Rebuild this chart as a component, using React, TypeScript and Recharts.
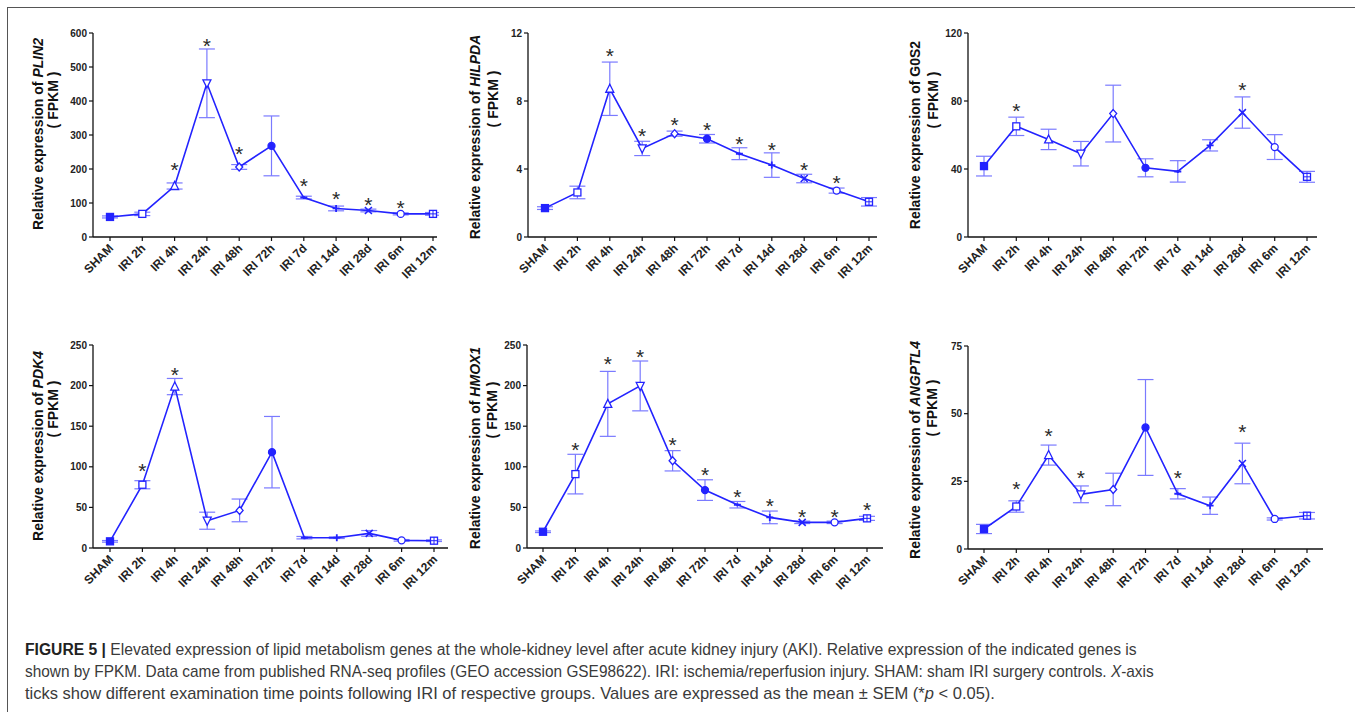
import React, { useLayoutEffect, useRef, useState } from 'react'
import { LineChart, Line, XAxis, YAxis, ErrorBar } from 'recharts'

const FONT = '"Liberation Sans", Arial, Helvetica, sans-serif'
const BLUE = '#2323ff'
const BAR_BLUE = '#7a7aff'

const CATEGORIES = ['SHAM', 'IRI 2h', 'IRI 4h', 'IRI 24h', 'IRI 48h', 'IRI 72h', 'IRI 7d', 'IRI 14d', 'IRI 28d', 'IRI 6m', 'IRI 12m']

// marker shape per time point (GraphPad style)
const MARKERS = ['sqFill', 'sq', 'triUp', 'triDown', 'diamond', 'circFill', 'dash', 'plus', 'cross', 'circ', 'sqPlus']

const PLIN2_MEAN = [59, 68, 150, 452, 206, 268, 116, 84, 78, 68, 68]
const PLIN2_SEM = [3, 5, 9, 101, 7, 88, 4, 7, 4, 3, 4]
const PLIN2_STAR = [null, null, 209, 575, 256, null, 162, 126, 108, 100, null]
const PLIN2_TICKS = [0, 100, 200, 300, 400, 500, 600]

const HILPDA_MEAN = [1.7, 2.62, 8.72, 5.21, 6.08, 5.78, 4.9, 4.23, 3.44, 2.73, 2.07]
const HILPDA_SEM = [0.08, 0.37, 1.57, 0.42, 0.15, 0.25, 0.35, 0.72, 0.25, 0.15, 0.25]
const HILPDA_STAR = [null, null, 10.92, 6.2, 6.83, 6.53, 5.74, 5.41, 4.23, 3.42, null]
const HILPDA_TICKS = [0, 4, 8, 12]

const G0S2_MEAN = [41.7, 65.1, 57.4, 49, 72.6, 40.7, 38.6, 53.9, 73.2, 52.9, 35.4]
const G0S2_SEM = [5.8, 5.4, 6, 7.2, 16.7, 5.3, 6.3, 3.3, 9.2, 7.3, 3.2]
const G0S2_STAR = [null, 76.7, null, null, null, null, null, null, 88.9, null, null]
const G0S2_TICKS = [0, 40, 80, 120]

const PDK4_MEAN = [8.2, 77.9, 198.8, 33.6, 46.3, 118, 12.7, 12.7, 18, 9.4, 9]
const PDK4_SEM = [1, 5, 10, 10.5, 14, 44, 1.5, 1, 3.5, 1, 1]
const PDK4_STAR = [null, 100.4, 219, null, null, null, null, null, null, null, null]
const PDK4_TICKS = [0, 50, 100, 150, 200, 250]

const HMOX1_MEAN = [20, 91, 177.5, 199.6, 107.4, 71.3, 53.3, 37.7, 31.6, 31.6, 36.5]
const HMOX1_SEM = [1, 24.4, 40, 30.7, 12.5, 12.7, 4, 7.8, 1.5, 1.5, 2.5]
const HMOX1_STAR = [null, 126, 232, 241, 133, 96, 68.4, 57.4, 43.9, 43.9, 52]
const HMOX1_TICKS = [0, 50, 100, 150, 200, 250]

const ANGPTL4_MEAN = [7.4, 15.7, 34.7, 20.2, 22, 44.9, 20.4, 16, 31.6, 11.1, 12.3]
const ANGPTL4_SEM = [1.7, 2.1, 3.7, 3.1, 6, 17.7, 1.9, 3.2, 7.5, 0.4, 1.2]
const ANGPTL4_STAR = [null, 23.7, 43.3, 28, null, null, 27.8, null, 45, null, null]
const ANGPTL4_TICKS = [0, 25, 50, 75]

const PANELS = [
  { gene: 'PLIN2', italic: true, mean: PLIN2_MEAN, sem: PLIN2_SEM, star: PLIN2_STAR, ticks: PLIN2_TICKS,
    axisX: 93, axisEnd: 437, top: 33, bottom: 237, first: 110, last: 433, l1: [38, 134], l2: [53, 100] },
  { gene: 'HILPDA', italic: true, mean: HILPDA_MEAN, sem: HILPDA_SEM, star: HILPDA_STAR, ticks: HILPDA_TICKS,
    axisX: 528, axisEnd: 877, top: 33, bottom: 237, first: 545, last: 869, l1: [475, 137], l2: [493, 99] },
  { gene: 'G0S2', italic: false, mean: G0S2_MEAN, sem: G0S2_SEM, star: G0S2_STAR, ticks: G0S2_TICKS,
    axisX: 968, axisEnd: 1317, top: 33, bottom: 237, first: 984, last: 1307, l1: [915, 135], l2: [933, 100] },
  { gene: 'PDK4', italic: true, mean: PDK4_MEAN, sem: PDK4_SEM, star: PDK4_STAR, ticks: PDK4_TICKS,
    axisX: 93, axisEnd: 448, top: 345, bottom: 548, first: 110, last: 434, l1: [38, 446], l2: [53, 409] },
  { gene: 'HMOX1', italic: true, mean: HMOX1_MEAN, sem: HMOX1_SEM, star: HMOX1_STAR, ticks: HMOX1_TICKS,
    axisX: 527, axisEnd: 883, top: 345, bottom: 548, first: 543, last: 867, l1: [475, 448], l2: [492, 410] },
  { gene: 'ANGPTL4', italic: true, mean: ANGPTL4_MEAN, sem: ANGPTL4_SEM, star: ANGPTL4_STAR, ticks: ANGPTL4_TICKS,
    axisX: 968, axisEnd: 1323, top: 346, bottom: 549, first: 984, last: 1307, l1: [915, 450], l2: [932, 408] },
]

function Marker(props: any) {
  const { cx, cy, index } = props
  if (cx == null || cy == null || isNaN(cy)) return <g key={index} />
  const s = 3.5
  const st = { stroke: BLUE, strokeWidth: 1.3 }
  switch (MARKERS[index]) {
    case 'sqFill':
      return <rect key={index} x={cx - s} y={cy - s} width={2 * s} height={2 * s} fill={BLUE} {...st} />
    case 'sq':
      return <rect key={index} x={cx - s} y={cy - s} width={2 * s} height={2 * s} fill="#fff" {...st} />
    case 'triUp':
      return <polygon key={index} points={`${cx},${cy - s - 1} ${cx + s + 0.5},${cy + s} ${cx - s - 0.5},${cy + s}`} fill="#fff" {...st} />
    case 'triDown':
      return <polygon key={index} points={`${cx},${cy + s + 1} ${cx + s + 0.5},${cy - s} ${cx - s - 0.5},${cy - s}`} fill="#fff" {...st} />
    case 'diamond':
      return <polygon key={index} points={`${cx},${cy - s - 0.5} ${cx + s},${cy} ${cx},${cy + s + 0.5} ${cx - s},${cy}`} fill="#fff" {...st} />
    case 'circFill':
      return <circle key={index} cx={cx} cy={cy} r={s} fill={BLUE} {...st} />
    case 'dash':
      return <path key={index} d={`M${cx - s},${cy}H${cx + s}M${cx},${cy - 1.5}V${cy + 1.5}`} fill="none" {...st} strokeWidth={2} />
    case 'plus':
      return <path key={index} d={`M${cx - s},${cy}H${cx + s}M${cx},${cy - s}V${cy + s}`} fill="none" {...st} strokeWidth={1.8} />
    case 'cross':
      return <path key={index} d={`M${cx - s},${cy - s}L${cx + s},${cy + s}M${cx + s},${cy - s}L${cx - s},${cy + s}`} fill="none" {...st} strokeWidth={1.6} />
    case 'circ':
      return <circle key={index} cx={cx} cy={cy} r={s} fill="#fff" {...st} />
    default:
      return (
        <g key={index}>
          <rect x={cx - s} y={cy - s} width={2 * s} height={2 * s} fill="#fff" {...st} />
          <path d={`M${cx - s},${cy}H${cx + s}M${cx},${cy - s}V${cy + s}`} {...st} strokeWidth={1} />
        </g>
      )
  }
}

function StarDot(props: any) {
  const { cx, cy, index, payload } = props
  if (payload == null || payload.star == null || cy == null || isNaN(cy)) return <g key={index} />
  return (
    <text key={index} x={cx} y={cy + 11.5} textAnchor="middle" fontSize={21} fontFamily={FONT} fill="#2a2a2a">
      *
    </text>
  )
}

function XTick(props: any) {
  const { x, y, payload } = props
  return (
    <g transform={`translate(${x + 1},${y + 3})`}>
      <text x={0} y={0} dy="0.35em" textAnchor="end" transform="rotate(-45)" fontSize={12} fontWeight={700} fontFamily={FONT} fill="#222">
        {payload.value}
      </text>
    </g>
  )
}

// caption line squeezed horizontally to the width it has in the figure
function CaptionLine({ y, width, children }: { y: number; width: number; children: React.ReactNode }) {
  const ref = useRef<SVGTextElement>(null)
  const [sx, setSx] = useState(1)
  useLayoutEffect(() => {
    const w = ref.current ? ref.current.getComputedTextLength() : 0
    if (w > 0) setSx(width / w)
  }, [width])
  return (
    <text ref={ref} x={0} y={0} transform={`translate(25 ${y}) scale(${sx} 1)`}>
      {children}
    </text>
  )
}

function GenePanel({ p }: { p: any }) {
  const data = CATEGORIES.map((name, i) => ({ name, mean: p.mean[i], sem: p.sem[i], star: p.star[i] }))
  const W = p.axisEnd - p.axisX + 62
  const H = p.bottom - p.top + 82
  const max = p.ticks[p.ticks.length - 1]
  return (
    <div style={{ position: 'absolute', left: p.axisX - 60, top: p.top - 12 }}>
      <LineChart width={W} height={H} data={data} margin={{ top: 12, right: 2, bottom: 0, left: 0 }}>
        <XAxis
          dataKey="name"
          type="category"
          interval={0}
          height={70}
          padding={{ left: p.first - p.axisX, right: p.axisEnd - p.last }}
          tickSize={4}
          tick={<XTick />}
          axisLine={{ stroke: '#111', strokeWidth: 1.3 }}
          tickLine={{ stroke: '#111', strokeWidth: 1.2 }}
        />
        <YAxis
          type="number"
          domain={[0, max]}
          ticks={p.ticks}
          interval={0}
          allowDataOverflow
          width={60}
          tickSize={4}
          tick={{ fontSize: 10, fontWeight: 700, fill: '#222', fontFamily: FONT }}
          axisLine={{ stroke: '#111', strokeWidth: 1.3 }}
          tickLine={{ stroke: '#111', strokeWidth: 1.2 }}
        />
        <Line
          dataKey="mean"
          stroke={BLUE}
          strokeWidth={1.6}
          dot={(d: any) => <Marker key={d.index} {...d} />}
          activeDot={false}
          isAnimationActive={false}
        >
          <ErrorBar dataKey="sem" width={8} stroke={BAR_BLUE} strokeWidth={1.2} direction="y" isAnimationActive={false} />
        </Line>
        <Line
          dataKey="star"
          stroke="none"
          dot={(d: any) => <StarDot key={d.index} {...d} />}
          activeDot={false}
          isAnimationActive={false}
        />
      </LineChart>
    </div>
  )
}

export default function App() {
  return (
    <div style={{ position: 'absolute', left: 0, top: 0, width: 1355, height: 712, background: '#fff', overflow: 'hidden' }}>
      <div style={{ position: 'absolute', left: 7, top: 7, width: 1360, height: 720, borderTop: '1.5px solid #555', borderLeft: '1.5px solid #555' }} />
      {PANELS.map((p) => (
        <GenePanel key={p.gene} p={p} />
      ))}
      <svg width={1355} height={712} style={{ position: 'absolute', left: 0, top: 0, pointerEvents: 'none' }}>
        {PANELS.map((p) => (
          <g key={p.gene} fontFamily={FONT} fontWeight={700} fontSize={14} fill="#111">
            <text x={p.l1[0]} y={p.l1[1]} textAnchor="middle" dominantBaseline="central" transform={`rotate(-90 ${p.l1[0]} ${p.l1[1]})`}>
              Relative expression of <tspan fontStyle={p.italic ? 'italic' : 'normal'}>{p.gene}</tspan>
            </text>
            <text x={p.l2[0]} y={p.l2[1]} textAnchor="middle" dominantBaseline="central" transform={`rotate(-90 ${p.l2[0]} ${p.l2[1]})`}>
              ( FPKM )
            </text>
          </g>
        ))}
        <g fontFamily={FONT} fontSize={16} fill="#3a3a3a">
          <CaptionLine y={655} width={1112}>
            <tspan fontWeight={700} fill="#222">FIGURE 5 | </tspan>
            Elevated expression of lipid metabolism genes at the whole-kidney level after acute kidney injury (AKI). Relative expression of the indicated genes is
          </CaptionLine>
          <CaptionLine y={677} width={1130}>
            shown by FPKM. Data came from published RNA-seq profiles (GEO accession GSE98622). IRI: ischemia/reperfusion injury. SHAM: sham IRI surgery controls. <tspan fontStyle="italic">X</tspan>-axis
          </CaptionLine>
          <CaptionLine y={699} width={971}>
            ticks show different examination time points following IRI of respective groups. Values are expressed as the mean ± SEM (*<tspan fontStyle="italic">p</tspan> {'<'} 0.05).
          </CaptionLine>
        </g>
      </svg>
    </div>
  )
}
